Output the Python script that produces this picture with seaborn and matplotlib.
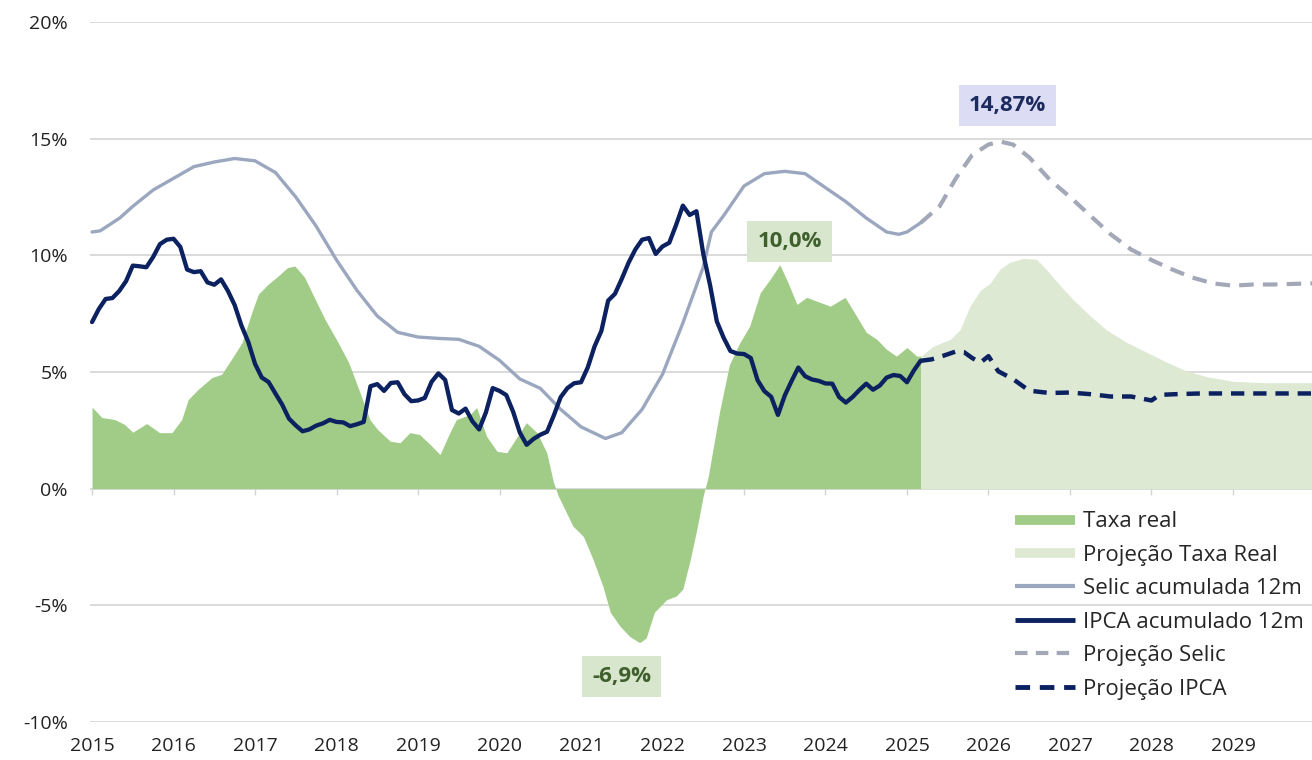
import numpy as np
import pandas as pd
import seaborn as sns
import matplotlib.pyplot as plt
import matplotlib.ticker as ticker
from matplotlib.lines import Line2D

# IPCA acumulado 12m, mensal de jan/2015 a mar/2025 (%)
ipca = [7.14, 7.70, 8.13, 8.17, 8.47, 8.89, 9.56, 9.53, 9.49, 9.93, 10.48, 10.67,
        10.71, 10.36, 9.39, 9.28, 9.32, 8.84, 8.74, 8.97, 8.48, 7.87, 6.99, 6.29,
        5.35, 4.76, 4.57, 4.08, 3.60, 3.00, 2.71, 2.46, 2.54, 2.70, 2.80, 2.95,
        2.86, 2.84, 2.68, 2.76, 2.86, 4.39, 4.48, 4.19, 4.53, 4.56, 4.05, 3.75,
        3.78, 3.89, 4.58, 4.94, 4.66, 3.37, 3.22, 3.43, 2.89, 2.54, 3.27, 4.31,
        4.19, 4.01, 3.30, 2.40, 1.88, 2.13, 2.31, 2.44, 3.14, 3.92, 4.31, 4.52,
        4.56, 5.20, 6.10, 6.76, 8.06, 8.35, 8.99, 9.68, 10.25, 10.67, 10.74, 10.06,
        10.38, 10.54, 11.30, 12.13, 11.73, 11.89, 10.07, 8.73, 7.17, 6.47, 5.90, 5.79,
        5.77, 5.60, 4.65, 4.18, 3.94, 3.16, 3.99, 4.61, 5.19, 4.82, 4.68, 4.62,
        4.51, 4.50, 3.93, 3.69, 3.93, 4.23, 4.50, 4.24, 4.42, 4.76, 4.87, 4.83,
        4.56, 5.06, 5.48]
ipca_t = 2015 + np.arange(len(ipca)) / 12

# Selic acumulada 12m
selic_t = [2015.0, 2015.1, 2015.34, 2015.5, 2015.75, 2016.0, 2016.25, 2016.5, 2016.75,
           2017.0, 2017.25, 2017.5, 2017.75, 2018.0, 2018.25, 2018.5, 2018.75, 2019.0,
           2019.25, 2019.5, 2019.75, 2020.0, 2020.25, 2020.5, 2020.75, 2021.0, 2021.3,
           2021.5, 2021.75, 2022.0, 2022.25, 2022.5, 2022.6, 2022.75, 2023.0, 2023.25,
           2023.5, 2023.75, 2024.0, 2024.25, 2024.5, 2024.75, 2024.9, 2025.0, 2025.17]
selic = [11.0, 11.05, 11.6, 12.1, 12.8, 13.3, 13.8, 14.0, 14.15,
         14.05, 13.55, 12.5, 11.25, 9.8, 8.5, 7.4, 6.7, 6.5,
         6.44, 6.4, 6.1, 5.5, 4.7, 4.3, 3.4, 2.65, 2.15,
         2.4, 3.4, 4.9, 7.1, 9.5, 11.0, 11.7, 12.97, 13.5,
         13.6, 13.5, 12.9, 12.3, 11.6, 11.0, 10.9, 11.0, 11.4]

# Projecao Selic
selic_proj_t = [2025.17, 2025.4, 2025.6, 2025.8, 2026.0, 2026.15, 2026.3, 2026.5, 2026.75,
                2027.0, 2027.25, 2027.5, 2027.75, 2028.0, 2028.25, 2028.5, 2028.75,
                2029.0, 2029.25, 2029.5, 2029.97]
selic_proj = [11.4, 12.1, 13.3, 14.3, 14.75, 14.87, 14.75, 14.2, 13.25,
              12.5, 11.7, 10.9, 10.25, 9.8, 9.4, 9.05, 8.8,
              8.7, 8.75, 8.75, 8.8]

# Projecao IPCA
ipca_proj_t = [2025.17, 2025.3, 2025.45, 2025.6, 2025.7, 2025.8, 2025.9, 2026.0, 2026.12,
               2026.3, 2026.5, 2026.75, 2027.0, 2027.25, 2027.5, 2027.75, 2028.0, 2028.1,
               2028.3, 2028.6, 2029.0, 2029.5, 2029.97]
ipca_proj = [5.48, 5.54, 5.7, 5.88, 5.85, 5.6, 5.4, 5.68, 5.03,
             4.7, 4.2, 4.1, 4.12, 4.05, 3.95, 3.95, 3.78, 4.02,
             4.05, 4.08, 4.08, 4.08, 4.08]

# Taxa real (historico)
real_t = [2015.0, 2015.12, 2015.28, 2015.4, 2015.5, 2015.67, 2015.83, 2015.98, 2016.1,
          2016.18, 2016.3, 2016.47, 2016.59, 2016.71, 2016.84, 2016.96, 2017.04, 2017.16,
          2017.28, 2017.4, 2017.49, 2017.61, 2017.74, 2017.86, 2018.02, 2018.15, 2018.29,
          2018.41, 2018.5, 2018.66, 2018.78, 2018.9, 2019.02, 2019.15, 2019.27, 2019.39,
          2019.47, 2019.64, 2019.72, 2019.84, 2019.97, 2020.09, 2020.21, 2020.33, 2020.46,
          2020.58, 2020.66, 2020.72, 2020.9, 2021.03, 2021.15, 2021.27, 2021.36, 2021.48,
          2021.6, 2021.72, 2021.8, 2021.9, 2022.05, 2022.17, 2022.25, 2022.34, 2022.42,
          2022.5, 2022.56, 2022.7, 2022.82, 2022.94, 2023.07, 2023.2, 2023.32, 2023.44,
          2023.54, 2023.65, 2023.77, 2023.89, 2024.06, 2024.24, 2024.38, 2024.5, 2024.63,
          2024.75, 2024.87, 2025.0, 2025.12, 2025.17]
real = [3.5, 3.05, 2.96, 2.75, 2.42, 2.79, 2.4, 2.4, 2.96,
        3.82, 4.25, 4.76, 4.9, 5.54, 6.26, 7.55, 8.33, 8.76,
        9.1, 9.48, 9.54, 9.05, 8.1, 7.25, 6.26, 5.4, 4.1,
        2.96, 2.55, 2.03, 1.97, 2.4, 2.32, 1.89, 1.46, 2.4,
        2.96, 3.18, 3.48, 2.25, 1.6, 1.54, 2.19, 2.83, 2.4,
        1.54, 0.3, -0.3, -1.6, -2.05, -3.05, -4.2, -5.3, -5.9,
        -6.34, -6.6, -6.4, -5.3, -4.76, -4.6, -4.3, -3.05, -1.76,
        -0.3, 0.5, 3.3, 5.3, 6.2, 6.97, 8.4, 8.97, 9.6,
        8.83, 7.9, 8.2, 8.04, 7.82, 8.2, 7.4, 6.7, 6.4,
        5.97, 5.68, 6.05, 5.68, 5.68]

# Projecao taxa real
real_proj_t = [2025.17, 2025.32, 2025.53, 2025.65, 2025.77, 2025.9, 2026.02, 2026.14,
               2026.26, 2026.43, 2026.59, 2026.71, 2026.88, 2027.04, 2027.25, 2027.45,
               2027.7, 2027.95, 2028.2, 2028.44, 2028.68, 2029.0, 2029.41, 2029.97]
real_proj = [5.68, 6.1, 6.4, 6.8, 7.8, 8.5, 8.8, 9.4,
             9.7, 9.87, 9.83, 9.4, 8.7, 8.1, 7.4, 6.8,
             6.26, 5.83, 5.4, 5.03, 4.8, 4.6, 4.54, 4.54]

years = list(range(2015, 2030))
yticks = [-10, -5, 0, 5, 10, 15, 20]

# rotulos de destaque: (texto, x, y, cor texto, cor fundo)
labels = [("10,0%", 2023.56, 10.6, "#3f5f2c", "#d7e6cc"),
          ("14,87%", 2026.23, 16.44, "#1c2a5e", "#dcdcf4"),
          ("-6,9%", 2021.5, -8.07, "#3f5f2c", "#d7e6cc")]

c_real = "#a1cc88"
c_real_proj = "#dde9d3"
c_selic = "#9ba7bf"
c_selic_proj = "#a3a8b8"
c_ipca = "#0c2160"

sns.set_theme(style="white")
plt.rcParams['font.family'] = ['Open Sans', 'DejaVu Sans']

fig = plt.figure(figsize=(13.12, 7.6), dpi=100)
ax = fig.add_axes([90 / 1312, 38 / 760, 1222 / 1312, 700 / 760])

ax.fill_between(real_t, 0, real, color=c_real, lw=0, zorder=1)
ax.fill_between(real_proj_t, 0, real_proj, color=c_real_proj, lw=0, zorder=1)

sns.lineplot(x=selic_t, y=selic, ax=ax, color=c_selic, lw=2.4, zorder=3)
sns.lineplot(x=selic_proj_t, y=selic_proj, ax=ax, color=c_selic_proj, lw=3,
             linestyle=(0, (3.5, 2.2)), zorder=3)
sns.lineplot(x=ipca_t, y=ipca, ax=ax, color=c_ipca, lw=3.1, zorder=4)
sns.lineplot(x=ipca_proj_t, y=ipca_proj, ax=ax, color=c_ipca, lw=3.2,
             linestyle=(0, (3, 2)), zorder=4)

ax.set_xlim(2014.975, 2029.97)
ax.set_ylim(-10, 20)
ax.set_yticks(yticks)
ax.yaxis.set_major_formatter(ticker.FuncFormatter(lambda v, p: f"{v:.0f}%"))
ax.set_xticks(years)
ax.set_xticklabels([str(y) for y in years])
ax.grid(axis='y', color='#dadada', lw=1.4)
ax.grid(axis='x', visible=False)
for s in ax.spines.values():
    s.set_visible(False)
ax.tick_params(axis='both', length=0, labelsize=14, colors='#222222')
ax.tick_params(axis='x', pad=11)
ax.tick_params(axis='y', pad=16)
ax.set_xlabel("")
ax.set_ylabel("")

# marcas pequenas dos anos na linha do zero
sec = ax.secondary_xaxis(1 / 3)
sec.set_xticks(years)
sec.tick_params(axis='x', length=4, width=1, color='#d4d4d4', labelbottom=False)
sec.spines['bottom'].set_visible(False)
sec.set_xticklabels([])

for txt, x, y, fc, bc in labels:
    ax.text(x, y, txt, ha='center', va='center', fontsize=16, fontweight='bold', color=fc,
            bbox=dict(boxstyle='square,pad=0.45', fc=bc, ec='none'), zorder=5)

handles = [Line2D([], [], color=c_real, lw=7, solid_capstyle='butt'),
           Line2D([], [], color=c_real_proj, lw=7, solid_capstyle='butt'),
           Line2D([], [], color=c_selic, lw=3, solid_capstyle='butt'),
           Line2D([], [], color=c_ipca, lw=3.5, solid_capstyle='butt'),
           Line2D([], [], color=c_selic_proj, lw=3, linestyle=(0, (3, 2))),
           Line2D([], [], color=c_ipca, lw=3.5, linestyle=(0, (3, 2)))]
names = ["Taxa real", "Projeção Taxa Real", "Selic acumulada 12m",
         "IPCA acumulado 12m", "Projeção Selic", "Projeção IPCA"]
ax.legend(handles, names, loc='upper left', bbox_to_anchor=(0.757, 0.301), frameon=False,
          fontsize=16, handlelength=2.7, handletextpad=0.36, labelspacing=0.56,
          borderpad=0, borderaxespad=0)

fig.savefig("out.png", dpi=100)
